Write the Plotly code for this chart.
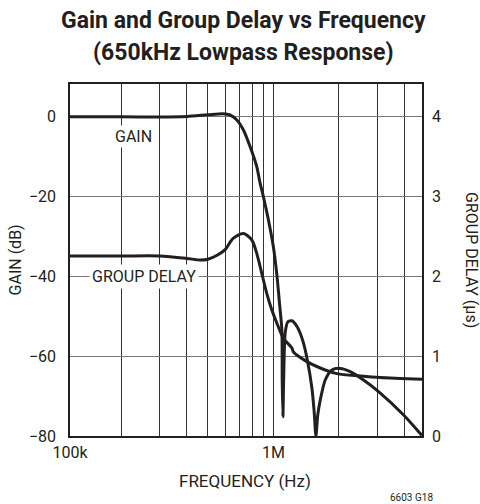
import plotly.graph_objects as go

# Frequency axis (Hz) and measured responses
gain_freq = [116e3, 200e3, 300e3, 400e3, 500e3, 587e3, 632e3, 679e3, 728e3, 782e3,
             839e3, 869e3, 900e3, 949e3, 1.0e6, 1.038e6, 1.067e6, 1.094e6, 1.098e6,
             1.106e6, 1.115e6, 1.133e6, 1.164e6, 1.217e6, 1.273e6, 1.329e6, 1.376e6,
             1.427e6, 1.504e6, 1.541e6, 1.569e6, 1.600e6, 1.643e6, 1.732e6, 1.859e6,
             2.030e6, 2.257e6, 2.598e6, 3.047e6, 3.972e6, 4.828e6]
gain_db = [-0.2, -0.2, -0.25, -0.1, 0.3, 0.55, 0.25, -1.0, -3.5, -7.7,
           -12.7, -16.8, -20.2, -26.0, -32.7, -39.8, -46.8, -53.5, -66.0,
           -75.2, -66.0, -54.3, -51.5, -51.2, -52.3, -54.3, -56.8,
           -60.5, -68.0, -74.0, -80.0, -74.8, -71.0, -66.0, -63.5,
           -63.1, -63.9, -66.0, -68.9, -74.75, -79.9]

delay_freq = [116e3, 200e3, 300e3, 400e3, 460e3, 500e3, 551e3, 600e3, 653e3, 728e3,
              796e3, 839e3, 885e3, 933e3, 984e3, 1.038e6, 1.113e6, 1.217e6, 1.237e6,
              1.427e6, 1.643e6, 1.961e6, 2.51e6, 3.10e6, 3.836e6, 4.828e6]
delay_us = [2.25, 2.25, 2.25, 2.22, 2.20, 2.21, 2.26, 2.33, 2.47, 2.53,
            2.45, 2.28, 2.03, 1.78, 1.575, 1.41, 1.22, 1.10, 1.05,
            0.93, 0.85, 0.78, 0.75, 0.73, 0.72, 0.71]

gain_ticks = [-80, -60, -40, -20, 0]
gain_ticktext = ["\u221280", "\u221260", "\u221240", "\u221220", "0"]
delay_ticks = [0, 1, 2, 3, 4]
freq_ticks = [116e3, 1e6]
freq_ticktext = ["100k", "1M"]
freq_minor = [2e5, 3e5, 4e5, 5e5, 6e5, 7e5, 8e5, 9e5, 2e6, 3e6, 4e6]

INK = "#231f20"
FONT = "Roboto, Liberation Sans, sans-serif"

fig = go.Figure()
fig.add_trace(go.Scatter(x=gain_freq, y=gain_db, mode="lines",
                         line=dict(color=INK, width=3, shape="spline", smoothing=0.7),
                         showlegend=False, hoverinfo="skip"))
fig.add_trace(go.Scatter(x=delay_freq, y=delay_us, mode="lines", yaxis="y2",
                         line=dict(color=INK, width=3, shape="spline", smoothing=0.8),
                         showlegend=False, hoverinfo="skip"))

fig.update_layout(
    width=480, height=504,
    margin=dict(l=70, r=58, t=84, b=68),
    paper_bgcolor="white", plot_bgcolor="white",
    font=dict(family=FONT, size=16, color=INK),
    xaxis=dict(type="log", range=[5.0645, 6.6837],
               tickvals=freq_ticks, ticktext=freq_ticktext, ticks="",
               showgrid=True, gridcolor="#333333", gridwidth=1,
               minor=dict(tickvals=freq_minor, showgrid=True, gridcolor="#333333",
                          gridwidth=1, ticks=""),
               showline=True, mirror=True, linecolor=INK, linewidth=1.5,
               zeroline=False, ticklabelstandoff=1),
    yaxis=dict(range=[-80, 8], tickvals=gain_ticks, ticktext=gain_ticktext, ticks="",
               showgrid=True, gridcolor="#777777", gridwidth=1,
               showline=True, mirror=True, linecolor=INK, linewidth=1.5,
               zeroline=False, ticklabelstandoff=9),
    yaxis2=dict(range=[0, 4.4], tickvals=delay_ticks, overlaying="y", side="right",
                ticks="", showgrid=False, zeroline=False, showline=False,
                ticklabelstandoff=9),
)

common = dict(showarrow=False, xanchor="center", yanchor="middle")
annotations = [
    dict(text="<b>Gain and Group Delay vs Frequency</b>", x=0.494, y=1.1818,
         xref="paper", yref="paper", font=dict(size=23), **common),
    dict(text="<b>(650kHz Lowpass Response)</b>", x=0.494, y=1.0909,
         xref="paper", yref="paper", font=dict(size=23), **common),
    dict(text="GAIN", x=5.3545, y=-5, xref="x", yref="y",
         bgcolor="white", borderpad=1, **common),
    dict(text="GROUP DELAY", x=5.403, y=-40, xref="x", yref="y",
         bgcolor="white", borderpad=2, **common),
    dict(text="GAIN (dB)", x=-0.155, y=0.5, xref="paper", yref="paper",
         textangle=-90, **common),
    dict(text="GROUP DELAY (\u00b5s)", x=1.142, y=0.5, xref="paper", yref="paper",
         textangle=90, **common),
    dict(text="FREQUENCY (Hz)", x=0.497, y=-0.128, xref="paper", yref="paper",
         font=dict(size=17), **common),
    dict(text="6603 G18", x=0.970, y=-0.176, xref="paper", yref="paper",
         font=dict(size=10), **common),
]
fig.update_layout(annotations=annotations)

fig.write_html("out.html")
